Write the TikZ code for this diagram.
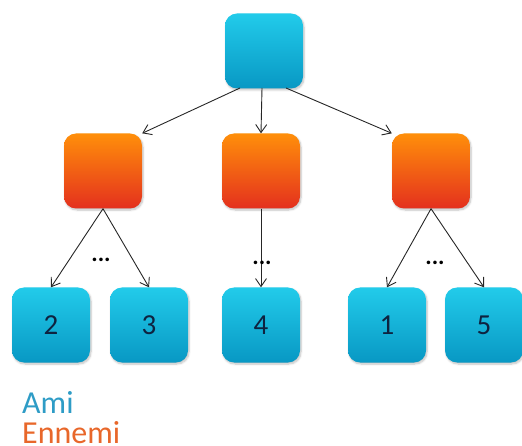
\documentclass[tikz,border=0pt]{standalone}
\usepackage{fontspec}
\setmainfont{Carlito}
\usetikzlibrary{arrows.meta,shadows.blur}
\definecolor{cyantop}{HTML}{22CBEA}
\definecolor{cyanbot}{HTML}{0898C4}
\definecolor{orgtop}{HTML}{FF8F0A}
\definecolor{orgbot}{HTML}{E4301E}
\definecolor{amicol}{HTML}{2E9CC6}
\definecolor{ennemicol}{HTML}{E8672A}
\definecolor{numcol}{HTML}{0E2340}
\tikzset{
  x=1pt,y=-1pt,
  box/.style={rounded corners=12pt, minimum width=78pt, minimum height=75pt, inner sep=0pt,
    blur shadow={shadow xshift=1pt,shadow yshift=-1.5pt,shadow blur steps=6,shadow opacity=25}},
  amibox/.style={box, top color=cyantop, bottom color=cyanbot, text=numcol,
    font=\fontsize{29}{30}\selectfont},
  enbox/.style={box, top color=orgtop, bottom color=orgbot},
  link/.style={draw=black!85, line width=0.9pt, -{Straight Barb[length=8pt,width=11pt]}},
  dotsl/.style={font=\fontsize{24}{24}\selectfont\bfseries, inner sep=0pt},
  legend/.style={font=\fontsize{32}{34}\selectfont, anchor=base west, inner sep=0pt}
}
\begin{document}
\begin{tikzpicture}
\useasboundingbox (0,0) rectangle (522,446);
\node[amibox] (root) at (264,51) {};
\node[enbox] (e1) at (103,171) {};
\node[enbox] (e2) at (261,171) {};
\node[enbox] (e3) at (431,171) {};
\node[amibox] (a2) at (51,325) {2};
\node[amibox] (a3) at (149,325) {3};
\node[amibox] (a4) at (261,325) {4};
\node[amibox] (a1) at (387,325) {1};
\node[amibox] (a5) at (484,325) {5};
\coordinate (r1) at (240,88);
\coordinate (r2) at (262,88);
\coordinate (r3) at (286,88);
\draw[link] (r1) -- (e1.north east);
\draw[link] (r2) -- (e2.north);
\draw[link] (r3) -- (e3.north west);
\draw[link] (e1.south) -- (a2.north);
\draw[link] (e1.south) -- (a3.north);
\draw[link] (e2.south) -- (a4.north);
\draw[link] (e3.south) -- (a1.north);
\draw[link] (e3.south) -- (a5.north);
\node[dotsl] (d1) at (101,260) {...};
\node[dotsl] (d2) at (262,263) {...};
\node[dotsl] (d3) at (435,263) {...};
\node[legend, text=amicol] (ami) at (22,413) {Ami};
\node[legend, text=ennemicol] (en) at (22,443) {Ennemi};
\end{tikzpicture}
\end{document}
